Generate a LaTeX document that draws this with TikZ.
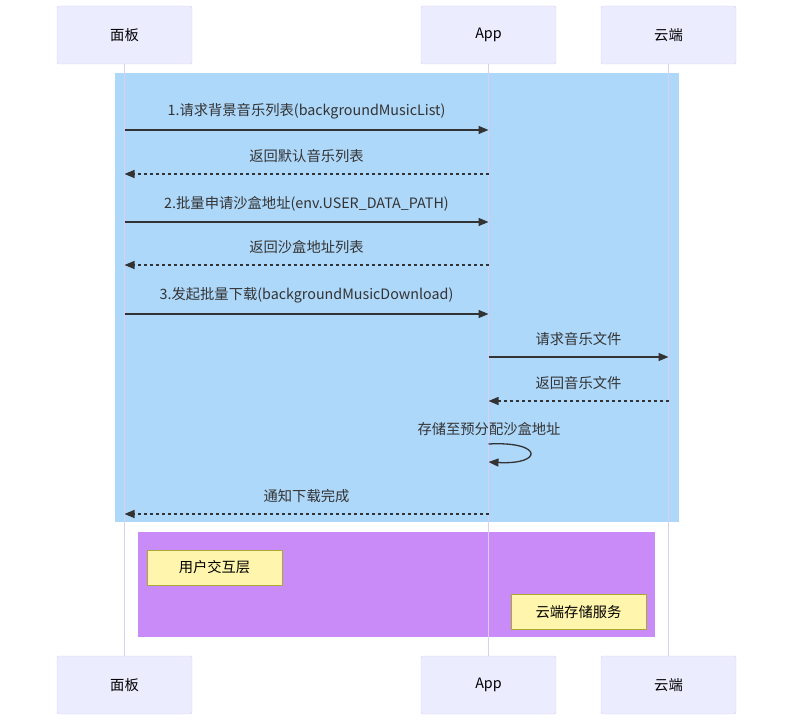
\documentclass[tikz,border=0pt]{standalone}
\usepackage{fontspec}
\setmainfont{Noto Sans CJK SC}
\usepackage{tikz}
\usetikzlibrary{arrows.meta,positioning}

\definecolor{actorfill}{HTML}{ECECFF}
\definecolor{actorline}{HTML}{DACEF3}
\definecolor{boxblue}{HTML}{AED8FA}
\definecolor{boxpurple}{HTML}{C88BF8}
\definecolor{notefill}{HTML}{FFF5AD}
\definecolor{noteline}{HTML}{AAAA33}
\definecolor{msgcolor}{HTML}{333333}

\tikzset{
	actor/.style={draw=actorline, fill=actorfill, rounded corners=2pt, minimum width=135pt, minimum height=58pt, text=black},
	lifeline/.style={draw=actorline, line width=1.1pt},
	call/.style={->, draw=msgcolor, line width=1.3pt},
	reply/.style={call, dash pattern=on 3pt off 3pt},
	msglabel/.style={text=msgcolor, above=7pt},
	note/.style={draw=noteline, fill=notefill, minimum width=135pt, minimum height=35pt, text=black}
}

\begin{document}
\begin{tikzpicture}[x=1pt,y=-1pt,>={Triangle[length=10pt,width=8pt]},font=\fontsize{14.3}{16}\selectfont]
	\useasboundingbox (0,0) rectangle (790,722);
	
	% groups
	\fill[boxblue] (115,73) rectangle (679,522);
	\fill[boxpurple] (138,532) rectangle (655,637);
	
	% actors
	\node[actor] (P) at (124.5,35) {面板};
	\node[actor] (A) at (488.5,35) {App};
	\node[actor] (C) at (668.5,35) {云端};
	\node[actor] (P2) at (124.5,685) {面板};
	\node[actor] (A2) at (488.5,685) {App};
	\node[actor] (C2) at (668.5,685) {云端};
	
	\draw[lifeline] (P) -- (P2);
	\draw[lifeline] (A) -- (A2);
	\draw[lifeline] (C) -- (C2);
	
	% messages
	\draw[call] (P |- 0,130) -- node[msglabel] {1.请求背景音乐列表(backgroundMusicList)} (A |- 0,130);
	\draw[reply] (A |- 0,174) -- node[msglabel] {返回默认音乐列表} (P |- 0,174);
	\draw[call] (P |- 0,222) -- node[msglabel] {2.批量申请沙盒地址(env.USER\_DATA\_PATH)} (A |- 0,222);
	\draw[reply] (A |- 0,265) -- node[msglabel] {返回沙盒地址列表} (P |- 0,265);
	\draw[call] (P |- 0,314) -- node[msglabel] {3.发起批量下载(backgroundMusicDownload)} (A |- 0,314);
	\draw[call] (A |- 0,357) -- node[msglabel] {请求音乐文件} (C |- 0,357);
	\draw[reply] (C |- 0,401) -- node[msglabel] {返回音乐文件} (A |- 0,401);
	\node[text=msgcolor] (store) at (489,429) {存储至预分配沙盒地址};
	\draw[call] (A |- 0,444) .. controls +(55,-3) and +(55,3) .. (A |- 0,462);
	\draw[reply] (A |- 0,514) -- node[msglabel] {通知下载完成} (P |- 0,514);
	
	% notes
	\node[note] (ui) at (214.5,567.5) {用户交互层};
	\node[note] (cloud) at (578.5,612) {云端存储服务};
\end{tikzpicture}
\end{document}
